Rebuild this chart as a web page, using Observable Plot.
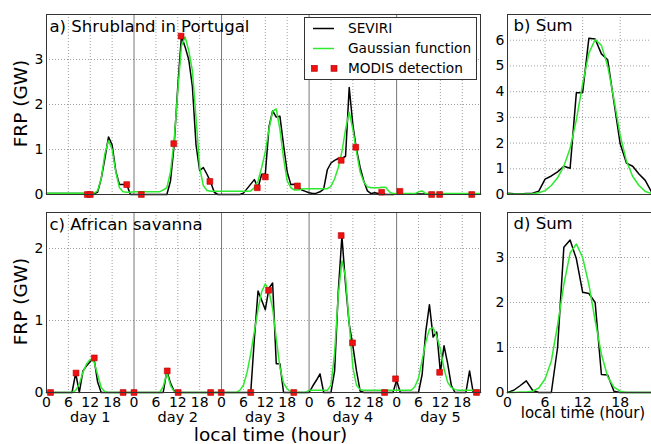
<!DOCTYPE html>
<html><head><meta charset="utf-8">
<script src="https://cdn.jsdelivr.net/npm/d3@7"></script>
<script src="https://cdn.jsdelivr.net/npm/@observablehq/plot@0.6"></script>
<style>
body{margin:0;background:#fff;}
#wrap{position:relative;width:651px;height:444px;overflow:hidden;font-family:"DejaVu Sans";}
#wrap svg{position:absolute;overflow:visible;}
</style></head><body><div id="wrap"></div>
<script>
// ---------- data ----------
const dayLabels = ["day 1","day 2","day 3","day 4","day 5"];
const dayTickHours = [0,6,12,18];
const sumTicks = [0,6,12,18];
const yTicksA = [0,1,2,3];
const yTicksB = [0,1,2,3,4,5,6];
const yTicksC = [0,1,2];
const yTicksD = [0,1,2,3];

// a) Shrubland in Portugal – hourly FRP (GW), hours 0..119
const seviriA = [
 0.02,0.02,0.02,0.02,0.02,0.02,0.02,0.02,0.02,0.02,0.02,0.02,0.02,0.02,0.05,0.35,0.8,1.28,1.1,0.52,0.22,0.22,0.22,0.0,
 0,0,0,0,0,0,0,0,0,0,0.3,1.1,2.4,3.52,3.28,3.0,2.4,1.1,0.53,0.6,0.45,0.28,0.05,0.0,
 0,0,0,0,0,0,0.03,0.13,0.23,0.33,0.15,0.45,0.45,1.5,1.86,1.72,1.74,1.1,0.5,0.22,0.23,0.17,0.1,0.07,
 0.04,0.02,0.03,0.06,0.12,0.55,0.7,0.76,0.8,0.8,0.85,2.38,1.55,1.0,0.6,0.3,0.08,0.02,0.04,0.02,0.03,0.0,0.0,0.0,
 0.01,0.01,0.01,0.01,0.01,0.01,0.01,0.01,0.01,0.01,0.01,0.01,0.01,0.01,0.01,0.01,0.01,0.01,0.01,0.01,0.01,0.01,0.01,0.01
];
const gaussA = [
 0.03,0.03,0.03,0.03,0.03,0.03,0.03,0.03,0.03,0.03,0.03,0.03,0.03,0.03,0.08,0.35,0.9,1.2,1.0,0.5,0.15,0.06,0.05,0.05,
 0.06,0.06,0.06,0.06,0.06,0.06,0.06,0.06,0.1,0.15,0.5,1.2,2.3,3.3,3.5,3.2,2.75,1.7,0.6,0.2,0.09,0.07,0.07,0.07,
 0.07,0.07,0.07,0.07,0.07,0.07,0.07,0.07,0.08,0.15,0.3,0.6,0.95,1.45,1.85,1.9,1.45,0.8,0.3,0.15,0.1,0.1,0.12,0.13,
 0.13,0.13,0.13,0.13,0.13,0.13,0.18,0.35,0.6,0.95,1.45,1.83,1.45,0.95,0.5,0.28,0.17,0.15,0.15,0.15,0.16,0.16,0.06,0.02,
 0.02,0.02,0.02,0.02,0.02,0.02,0.06,0.08,0.02,0.02,0.02,0.02,0.02,0.02,0.02,0.02,0.02,0.02,0.02,0.02,0.02,0.02,0.02,0.02
];
const modisTimeA = [11.2,12,22,26,34.9,36.9,44.8,57.8,60,68.8,80.8,84.8,91.9,96.9,105.6,107.8,116.6];
const modisFrpA  = [0,0,0.22,0,1.13,3.52,0.29,0.15,0.39,0.19,0.76,1.05,0.05,0.07,0,0,0];

// b) Sum – Portugal, hours 0..23
const seviriB = [0.05,0.03,0.02,0.04,0.05,0.13,0.6,0.72,0.88,1.1,1.02,3.96,3.96,6.08,6.05,5.47,5.24,3.6,1.97,1.22,1.1,0.8,0.55,0.1];
const gaussB  = [0.02,0.01,0.01,0.02,0.03,0.07,0.15,0.35,0.65,1.1,1.8,2.9,4.3,5.5,6.03,5.8,5.0,3.7,2.3,1.3,0.7,0.35,0.12,0.04];

// c) African savanna – hourly FRP (GW), hours 0..119
const seviriC = [
 0,0,0,0,0,0,0,0,0.27,0.0,0.3,0.37,0.43,0.48,0.15,0,0,0,0,0,0,0,0,0,
 0,0,0,0,0,0,0,0,0,0.3,0.13,0.02,0,0,0,0,0,0,0,0,0,0,0,0,
 0,0,0,0,0,0,0,0,0,0.75,1.41,1.28,1.15,1.45,1.52,0.4,0.4,0,0,0,0,0,0,0,
 0,0.09,0.17,0.26,0,0,0,0.3,1.4,2.17,1.5,0.95,0.65,0.3,0.02,0,0,0,0,0,0,0,0,0,
 0.17,0,0,0,0,0,0,0.25,0.85,1.22,0.77,0.84,0.28,0.65,0.4,0.1,0,0,0,0,0.3,0,0,0
];
const gaussC = [
 0,0,0,0,0,0,0,0,0.03,0.12,0.28,0.4,0.46,0.43,0.25,0.07,0.01,0,0,0,0,0,0,0,
 0,0,0,0,0,0,0,0,0.08,0.27,0.1,0.01,0,0,0,0,0,0,0,0,0,0,0,0,
 0,0,0,0,0,0.03,0.1,0.28,0.54,0.85,1.15,1.4,1.51,1.4,1.17,0.75,0.35,0.13,0.05,0.01,0,0,0,0,
 0.03,0.03,0.03,0.03,0.03,0.03,0.1,0.55,1.35,1.83,1.6,0.95,0.35,0.1,0.04,0.03,0.03,0.03,0.03,0.03,0.03,0.03,0.03,0.03,
 0.03,0.03,0.03,0.03,0.03,0.08,0.2,0.45,0.7,0.88,0.9,0.78,0.6,0.33,0.14,0.07,0.04,0.03,0.03,0.03,0.03,0.03,0.03,0.03
];
const modisTimeC = [1.1,8.1,13.1,21,24,33.1,36.1,45,47.9,56,60.9,67.8,80.8,83.9,92.7,95.7,107.8,117.9];
const modisFrpC  = [0,0.27,0.48,0,0,0.3,0,0,0,0,1.42,0,2.18,0.69,0,0.19,0.28,0];

// d) Sum – savanna, hours 0..23
const seviriD = [0,0.05,0.15,0.26,0.05,0,0,0,1.0,3.23,3.39,2.97,2.23,2.2,2.0,0.4,0.39,0.03,0,0,0,0,0,0];
const gaussD  = [0,0,0.01,0.01,0.03,0.1,0.3,0.7,1.5,2.4,3.1,3.3,3.0,2.4,1.6,0.85,0.35,0.12,0.03,0,0,0,0,0];

// ---------- helpers ----------
const FONT = "DejaVu Sans";
const BLACK = "#000", GREEN = "#2eea2e", RED = "#ee1111";
const hourTicks = dayLabels.flatMap((d,i)=>dayTickHours.map(t=>t+24*i));
const subGrid = hourTicks.filter(h=>h%24!==0);
const dayStarts = hourTicks.filter(h=>h%24===0 && h>0);
const series = arr => arr.map((v,i)=>({h:i, v}));
const pts = (t, v) => t.map((h,i)=>({h, v:v[i]}));
const wrap = document.getElementById("wrap");
function place(svg, left, top){ svg.style.left = left+"px"; svg.style.top = top+"px"; wrap.appendChild(svg); }
const grid = {stroke:"#777", strokeWidth:0.7, strokeDasharray:"1,2"};
const intFmt = d => String(d);

function longPanel({sev, gau, mt, mv, yMax, yTicks, title, height, mb, xLabels}){
  const marks = [
    Plot.ruleY(yTicks.filter(t=>t>0), grid),
    Plot.ruleX(subGrid, grid),
    Plot.ruleX(dayStarts, {stroke:"#777", strokeWidth:1}),
    Plot.line(series(sev), {x:"h", y:"v", stroke:BLACK, strokeWidth:1.5}),
    Plot.line(series(gau), {x:"h", y:"v", stroke:GREEN, strokeWidth:1.5}),
    Plot.dot(pts(mt, mv), {x:"h", y:"v", symbol:"square", r:3.3, fill:RED, stroke:"#b00", strokeWidth:0.6}),
    Plot.frame({stroke:"#333", strokeWidth:1}),
    Plot.axisY(yTicks, {tickSize:0, tickPadding:3, fontSize:14, tickFormat:intFmt, label:null}),
    Plot.text([title], {text:d=>d, frameAnchor:"top-left", dx:3, dy:17, lineAnchor:"bottom", fontSize:16.5, fill:"#000"})
  ];
  if (xLabels){
    marks.push(Plot.axisX(hourTicks, {tickSize:0, tickPadding:5, fontSize:14, tickFormat:d=>d%24, label:null}));
    marks.push(Plot.text(dayLabels, {x:(d,i)=>12+24*i, text:d=>d, frameAnchor:"bottom", lineAnchor:"bottom", dy:29.5, fontSize:14.5, fill:"#000"}));
  }
  return Plot.plot({
    width:490, height, marginLeft:46, marginRight:10, marginTop:14, marginBottom:mb,
    style:{fontFamily:FONT, fontSize:"14px", color:"#000", background:"transparent", overflow:"visible"},
    x:{domain:[0,119], axis: xLabels ? undefined : null},
    y:{domain:[0,yMax], axis:null},
    marks
  });
}

function sumPanel({sev, gau, yMax, yTicks, title, height, mb, xLabels}){
  const marks = [
    Plot.ruleY(yTicks.filter(t=>t>0), grid),
    Plot.ruleX(sumTicks.filter(t=>t>0), grid),
    Plot.line(series(sev), {x:"h", y:"v", stroke:BLACK, strokeWidth:1.5}),
    Plot.line(series(gau), {x:"h", y:"v", stroke:GREEN, strokeWidth:1.5}),
    Plot.ruleX([0], {stroke:"#333", strokeWidth:1}),
    Plot.ruleY([0, yMax], {stroke:"#333", strokeWidth:1}),
    Plot.axisY(yTicks, {tickSize:0, tickPadding:3, fontSize:14, tickFormat:intFmt, label:null}),
    Plot.text([title], {text:d=>d, frameAnchor:"top-left", dx:6, dy:16.5, lineAnchor:"bottom", fontSize:16.5, fill:"#000"})
  ];
  if (xLabels){
    marks.push(Plot.axisX(sumTicks, {tickSize:0, tickPadding:5, fontSize:14, tickFormat:intFmt, label:null}));
  }
  return Plot.plot({
    width:180, height, marginLeft:27, marginRight:9, marginTop:14, marginBottom:mb,
    style:{fontFamily:FONT, fontSize:"14px", color:"#000", background:"transparent", overflow:"visible"},
    x:{domain:[0,23], axis: xLabels ? undefined : null},
    y:{domain:[0,yMax], axis:null},
    marks
  });
}

place(longPanel({sev:seviriA, gau:gaussA, mt:modisTimeA, mv:modisFrpA, yMax:4, yTicks:yTicksA,
  title:"a) Shrubland in Portugal", height:206, mb:12, xLabels:false}), 0, 0);
place(sumPanel({sev:seviriB, gau:gaussB, yMax:7, yTicks:yTicksB, title:"b) Sum", height:206, mb:12, xLabels:false}), 480, 0);
place(longPanel({sev:seviriC, gau:gaussC, mt:modisTimeC, mv:modisFrpC, yMax:2.5, yTicks:yTicksC,
  title:"c) African savanna", height:246, mb:52, xLabels:true}), 0, 198);
place(sumPanel({sev:seviriD, gau:gaussD, yMax:4, yTicks:yTicksD, title:"d) Sum", height:246, mb:52, xLabels:true}), 480, 198);

// ---------- overlay: axis labels + legend ----------
const ns = "http://www.w3.org/2000/svg";
const ov = document.createElementNS(ns, "svg");
ov.setAttribute("width", 651); ov.setAttribute("height", 444);
ov.style.left = "0px"; ov.style.top = "0px";
ov.setAttribute("font-family", FONT);
ov.innerHTML = `
 <text transform="translate(27,103.5) rotate(-90)" text-anchor="middle" font-size="18.5">FRP (GW)</text>
 <text transform="translate(27,301.5) rotate(-90)" text-anchor="middle" font-size="18.5">FRP (GW)</text>
 <text x="270.5" y="440.5" text-anchor="middle" font-size="18.5">local time (hour)</text>
 <text x="583" y="418" text-anchor="middle" font-size="15">local time (hour)</text>
 <g>
  <rect x="304.5" y="17.5" width="172" height="62" fill="#fff" stroke="#333" stroke-width="1"/>
  <line x1="313" y1="28.5" x2="334" y2="28.5" stroke="${BLACK}" stroke-width="1.5"/>
  <line x1="313" y1="48.5" x2="334" y2="48.5" stroke="${GREEN}" stroke-width="1.5"/>
  <rect x="311.3" y="65.3" width="6" height="6" fill="${RED}" stroke="#b00" stroke-width="0.6"/>
  <rect x="331" y="65.3" width="6" height="6" fill="${RED}" stroke="#b00" stroke-width="0.6"/>
  <text x="348" y="33.3" font-size="13.7">SEVIRI</text>
  <text x="348" y="53.3" font-size="13.7">Gaussian function</text>
  <text x="348" y="73.3" font-size="13.7">MODIS detection</text>
 </g>`;
wrap.appendChild(ov);
</script>
</body></html>
